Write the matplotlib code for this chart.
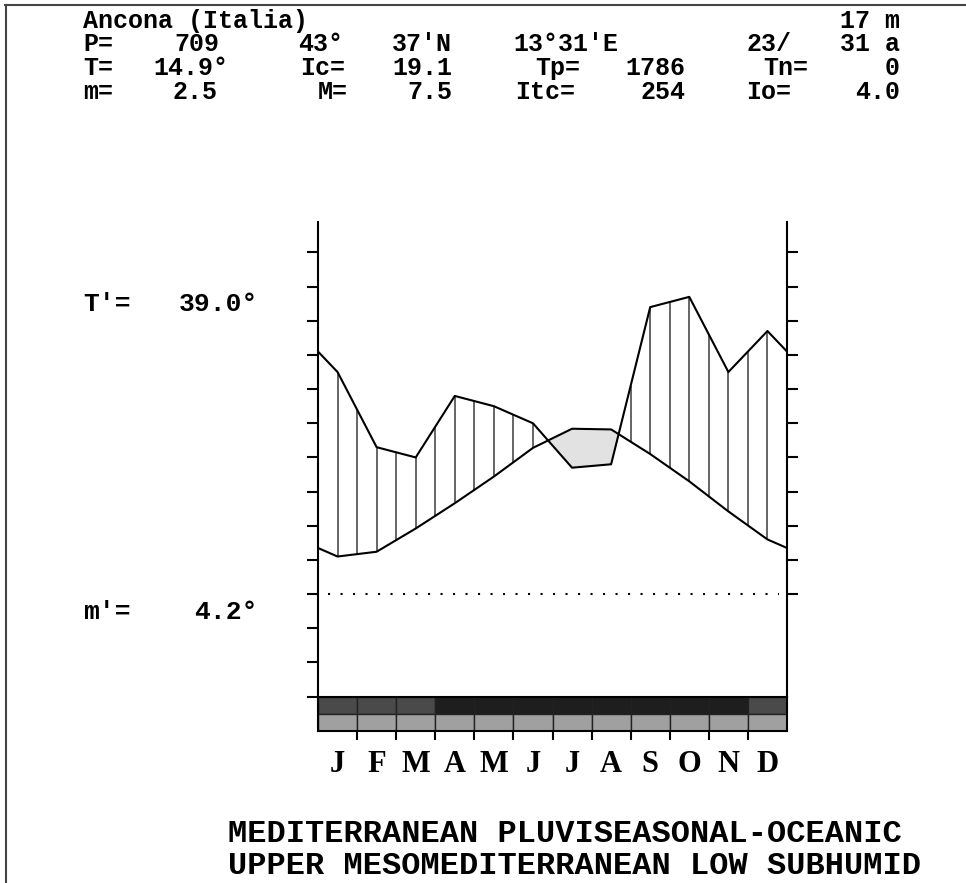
import matplotlib
matplotlib.use('Agg')
import matplotlib.pyplot as plt
import numpy as np
from matplotlib.lines import Line2D

# ---------------- data ----------------
months = ['J', 'F', 'M', 'A', 'M', 'J', 'J', 'A', 'S', 'O', 'N', 'D']
temp = [5.5, 6.2, 9.6, 13.3, 17.2, 21.4, 24.2, 24.1, 20.5, 16.5, 12.1, 8.0]      # deg C
precip = [65, 43, 40, 58, 55, 50, 37, 38, 84, 87, 65, 77]                        # mm
top_row_colors = ['#4a4a4a', '#4a4a4a', '#4a4a4a', '#1e1e1e', '#1e1e1e', '#1e1e1e',
                  '#1e1e1e', '#1e1e1e', '#1e1e1e', '#1e1e1e', '#1e1e1e', '#4a4a4a']
bottom_row_colors = ['#a0a0a0'] * 12

header_l1 = [("Ancona (Italia)", 83, 'left'), ("17 m", 900, 'right')]
header_l2 = [("P=", 83, 'left'), ("709", 219, 'right'), ("43°", 298, 'left'),
             ("37'N", 452, 'right'), ("13°31'E", 513, 'left'), ("23/", 746, 'left'),
             ("31 a", 900, 'right')]
header_l3 = [("T=", 83, 'left'), ("14.9°", 228, 'right'), ("Ic=", 300, 'left'),
             ("19.1", 452, 'right'), ("Tp=", 535, 'left'), ("1786", 685, 'right'),
             ("Tn=", 763, 'left'), ("0", 900, 'right')]
header_l4 = [("m=", 83, 'left'), ("2.5", 218, 'right'), ("M=", 318, 'left'),
             ("7.5", 452, 'right'), ("Itc=", 515, 'left'), ("254", 685, 'right'),
             ("Io=", 746, 'left'), ("4.0", 900, 'right')]
tmax_label = [("T'=", 83, 'left'), ("39.0°", 258, 'right')]
tmin_label = [("m'=", 83, 'left'), ("4.2°", 258, 'right')]
footer = ["MEDITERRANEAN PLUVISEASONAL-OCEANIC",
          "UPPER MESOMEDITERRANEAN LOW SUBHUMID"]

# ---------------- figure ----------------
W, H = 966, 883
fig = plt.figure(figsize=(W / 100, H / 100), dpi=100)
fig.patch.set_facecolor('white')


def fx(px):
    return px / W


def fy(py):
    return 1 - py / H


L, R, TOP, BOT = 318, 787, 221.7, 696.6
ax = fig.add_axes([fx(L), fy(BOT), (R - L) / W, (BOT - TOP) / H])
ax.set_xlim(0, 12)
ax.set_ylim(-15, 54.5)
ax.set_facecolor('none')

xc = np.arange(12) + 0.5
T_edge = (temp[-1] + temp[0]) / 2
P_edge = (precip[-1] + precip[0]) / 2
X = np.concatenate([[0], xc, [12]])
Tc = np.array([T_edge] + temp + [T_edge])
Pc = np.array([P_edge] + precip + [P_edge]) / 2.0   # P = 2T scale

# dry period fill
ax.fill_between(X, Tc, Pc, where=Tc > Pc, interpolate=True,
                color='#e2e2e2', zorder=1, linewidth=0)

# humid period hatching (vertical lines every half month)
hx = np.arange(0.5, 12, 0.5)
ht = np.interp(hx, X, Tc)
hp = np.interp(hx, X, Pc)
wet = hp > ht
ax.vlines(hx[wet], ht[wet], hp[wet], color='#3c3c3c', linewidth=1.1, zorder=2)

ax.plot(X, Tc, color='black', linewidth=1.5, zorder=3)
ax.plot(X, Pc, color='black', linewidth=1.5, zorder=3)

# frost line
ax.plot([0.25, 11.8], [0, 0], color='black', linewidth=1.5,
        linestyle=(0, (1, 5)), zorder=3)

for s in ['top', 'bottom']:
    ax.spines[s].set_visible(False)
for s in ['left', 'right']:
    ax.spines[s].set_linewidth(1.5)
ax.set_xticks([])
ax.set_yticks(range(-15, 51, 5))
ax.tick_params(axis='y', left=True, right=False, direction='out', length=8,
               width=1.5, labelleft=False)

axr = ax.twinx()
axr.set_ylim(-15, 54.5)
axr.set_yticks(range(0, 51, 5))
axr.tick_params(axis='y', right=True, direction='out', length=8, width=1.5,
                labelright=False)
for s in axr.spines.values():
    s.set_visible(False)
axr.set_xticks([])

# ---------------- bottom bars ----------------
BB = 730.8
ax2 = fig.add_axes([fx(L), fy(BB), (R - L) / W, (BB - BOT) / H])
ax2.set_xlim(0, 12)
ax2.set_ylim(0, 2)
ax2.bar(xc, 1, width=1, bottom=1, color=top_row_colors, edgecolor='#222222',
        linewidth=1)
ax2.bar(xc, 1, width=1, bottom=0, color=bottom_row_colors, edgecolor='#222222',
        linewidth=1)
for s in ax2.spines.values():
    s.set_linewidth(1.5)
ax2.set_yticks([])
ax2.set_xticks(range(1, 12))
ax2.tick_params(axis='x', direction='out', length=6.5, width=1.5,
                labelbottom=False)
for i, m in enumerate(months):
    fig.text(fx(L + (i + 0.5) * (R - L) / 12), fy(772), m, ha='center',
             va='baseline', family='Liberation Serif', fontweight='bold',
             fontsize=22)

# ---------------- texts ----------------
hdr = dict(family='Liberation Mono', fontsize=18, fontweight='bold', color='black')


def put_line(items, ybase, **kw):
    for s, x, ha in items:
        fig.text(fx(x), fy(ybase), s, ha=ha, va='baseline', **{**hdr, **kw})


put_line(header_l1, 28)
put_line(header_l2, 51)
put_line(header_l3, 75)
put_line(header_l4, 99)
put_line(tmax_label, 311, fontsize=19)
put_line(tmin_label, 619, fontsize=19)

for j, line in enumerate(footer):
    fig.text(fx(228), fy(842 + 32 * j), line, ha='left', va='baseline',
             family='Liberation Mono', fontweight='bold', fontsize=23)

# frame lines
fig.add_artist(Line2D([fx(5), 1], [fy(5), fy(5)], color='#444444', linewidth=1.5))
fig.add_artist(Line2D([fx(5.5), fx(5.5)], [fy(4.5), 0], color='#444444',
                      linewidth=1.5))

fig.savefig('out.png', dpi=100, facecolor='white')
